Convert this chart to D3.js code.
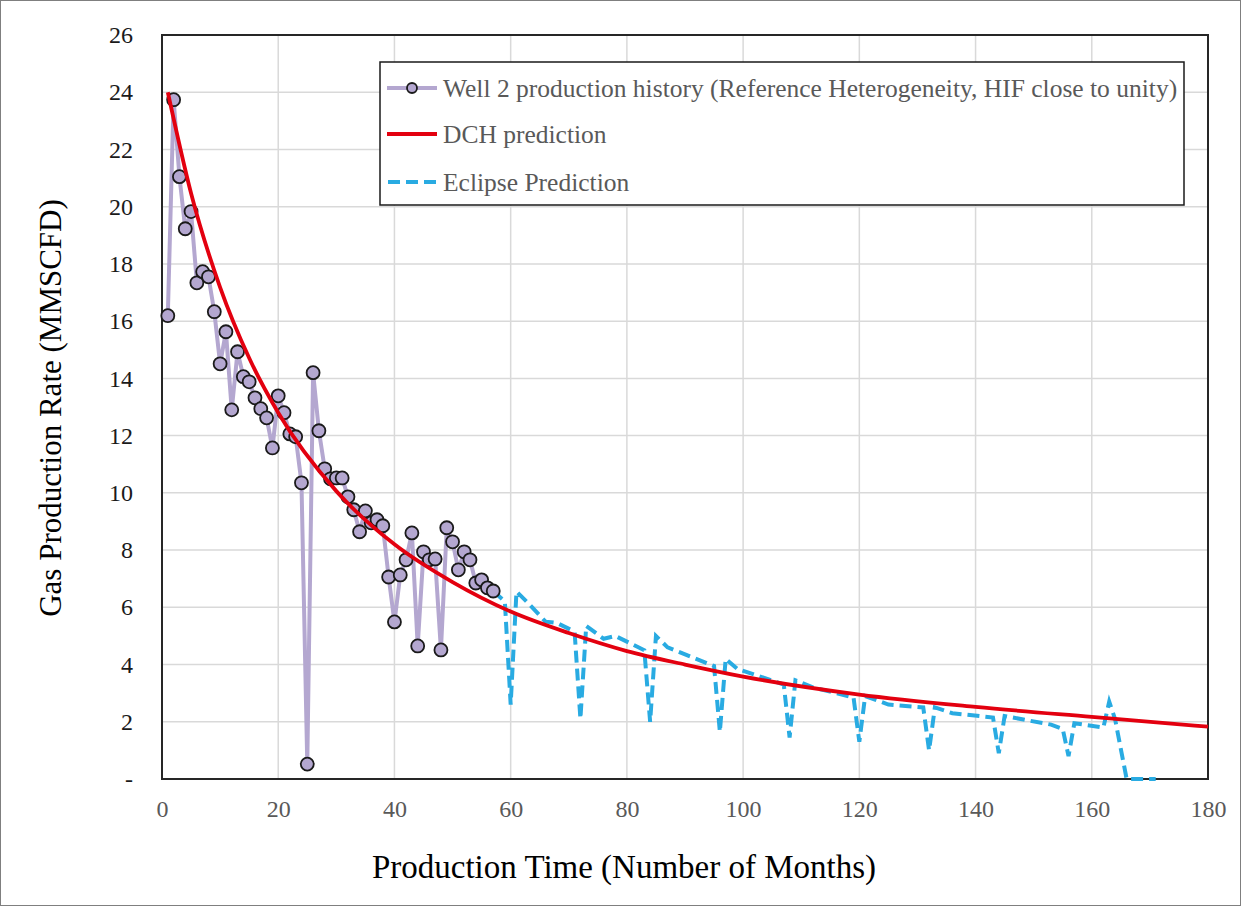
<!DOCTYPE html>
<html>
<head>
<meta charset="utf-8">
<script src="https://cdn.jsdelivr.net/npm/d3@7"></script>
<style>
body { margin: 0; background: #fff; }
text { font-family: "Liberation Serif", "Times New Roman", serif; }
</style>
</head>
<body>
<div id="chart-area"></div>
<script>
// production history, months 1..57
var historyMonths = d3.range(1, 58);
var historyRates = [16.19, 23.74, 21.05, 19.23, 19.83, 17.34, 17.73, 17.55, 16.33, 14.51,
    15.63, 12.9, 14.93, 14.06, 13.88, 13.32, 12.94, 12.62, 11.57, 13.39,
    12.8, 12.06, 11.96, 10.35, 0.52, 14.2, 12.17, 10.84, 10.49, 10.52,
    10.52, 9.86, 9.41, 8.64, 9.37, 8.95, 9.06, 8.85, 7.06, 5.49,
    7.13, 7.66, 8.6, 4.65, 7.94, 7.66, 7.69, 4.51, 8.78, 8.29,
    7.31, 7.94, 7.66, 6.85, 6.96, 6.68, 6.57];

// DCH prediction
var dchMonths = [1, 5, 10, 15, 20, 30, 40, 50, 60, 70, 80, 90, 100, 120, 140, 160, 180];
var dchRates = [24.0, 20.47, 17.18, 14.71, 12.8, 10.06, 8.2, 6.88, 5.85, 5.1, 4.47, 4.0, 3.58, 2.95, 2.52, 2.17, 1.83];

// Eclipse prediction
var eclipseMonths = [57, 59, 60, 61, 63, 66, 68, 71, 72, 73, 76, 78, 83, 84, 85, 87, 95, 96, 97, 99,
    107, 108, 109, 112, 119, 120, 121, 125, 131, 132, 133, 136, 143, 144, 145, 153, 155, 156, 157,
    162, 163, 164, 166, 171];
var eclipseRates = [6.57, 6.2, 2.6, 6.55, 6.15, 5.5, 5.45, 5.15, 2.1, 5.35, 4.9, 5.0, 4.5, 2.0, 5.0, 4.6, 3.95, 1.65, 4.2, 3.85,
    3.3, 1.45, 3.45, 3.2, 2.85, 1.3, 2.9, 2.6, 2.5, 1.0, 2.5, 2.3, 2.15, 0.9, 2.2, 1.9, 1.75, 0.8, 1.95,
    1.8, 2.7, 2.1, 0, 0];

var xTicks = d3.range(0, 181, 20);
var yTicks = d3.range(0, 27, 2);

var legendLabels = ["Well 2 production history (Reference Heterogeneity, HIF close to unity)",
    "DCH prediction", "Eclipse Prediction"];

var width = 1247;
var height = 907;
var margin = { left: 162, top: 35, right: 39, bottom: 128 };

var svg = d3.select("#chart-area")
    .append("svg")
    .attr("width", width)
    .attr("height", height);

// outer frame
svg.append("rect")
    .attr("x", 0.5).attr("y", 0.5)
    .attr("width", 1240).attr("height", 905)
    .attr("fill", "none")
    .attr("stroke", "#7f7f7f")
    .attr("stroke-width", 1);

var x = d3.scaleLinear()
    .domain([0, 180])
    .range([margin.left, width - margin.right]);

var y = d3.scaleLinear()
    .domain([0, 26])
    .range([height - margin.bottom, margin.top]);

// gridlines
svg.append("g")
    .selectAll("line.gx")
    .data(xTicks)
    .enter()
    .append("line")
    .attr("x1", function(d) { return x(d); })
    .attr("x2", function(d) { return x(d); })
    .attr("y1", y(0))
    .attr("y2", y(26))
    .attr("stroke", "#d9d9d9")
    .attr("stroke-width", 1.5);

svg.append("g")
    .selectAll("line.gy")
    .data(yTicks)
    .enter()
    .append("line")
    .attr("x1", x(0))
    .attr("x2", x(180))
    .attr("y1", function(d) { return y(d); })
    .attr("y2", function(d) { return y(d); })
    .attr("stroke", "#d9d9d9")
    .attr("stroke-width", 1.5);

// axes
var xAxis = svg.append("g")
    .attr("transform", "translate(0," + y(0) + ")")
    .call(d3.axisBottom(x).tickValues(xTicks).tickSize(0).tickPadding(21));

var yAxis = svg.append("g")
    .attr("transform", "translate(" + x(0) + ",0)")
    .call(d3.axisLeft(y).tickValues(yTicks).tickSize(0).tickPadding(29)
        .tickFormat(function(d) { return d === 0 ? "-" : d; }));

xAxis.select(".domain").remove();
yAxis.select(".domain").remove();
xAxis.selectAll("text")
    .attr("font-family", "Liberation Serif, Times New Roman, serif")
    .attr("font-size", 24)
    .attr("fill", "#595959");
yAxis.selectAll("text")
    .attr("font-family", "Liberation Serif, Times New Roman, serif")
    .attr("font-size", 24)
    .attr("fill", "#1a1a1a");

// plot frame
svg.append("rect")
    .attr("x", x(0)).attr("y", y(26))
    .attr("width", x(180) - x(0))
    .attr("height", y(0) - y(26))
    .attr("fill", "none")
    .attr("stroke", "#262626")
    .attr("stroke-width", 2);

var line = d3.line()
    .x(function(d) { return x(d[0]); })
    .y(function(d) { return y(d[1]); });

var historyData = historyMonths.map(function(m, i) { return [m, historyRates[i]]; });
var dchData = dchMonths.map(function(m, i) { return [m, dchRates[i]]; });
var eclipseData = eclipseMonths.map(function(m, i) { return [m, eclipseRates[i]]; });

svg.append("path")
    .datum(eclipseData)
    .attr("d", line)
    .attr("fill", "none")
    .attr("stroke", "#29abe2")
    .attr("stroke-width", 4)
    .attr("stroke-dasharray", "12,6");

svg.append("path")
    .datum(historyData)
    .attr("d", line)
    .attr("fill", "none")
    .attr("stroke", "#b4a7d0")
    .attr("stroke-width", 4)
    .attr("stroke-linejoin", "round");

svg.selectAll("circle.hist")
    .data(historyData)
    .enter()
    .append("circle")
    .attr("cx", function(d) { return x(d[0]); })
    .attr("cy", function(d) { return y(d[1]); })
    .attr("r", 6.5)
    .attr("fill", "#b4a7d0")
    .attr("stroke", "#1a1a1a")
    .attr("stroke-width", 1.8);

svg.append("path")
    .datum(dchData)
    .attr("d", line.curve(d3.curveMonotoneX))
    .attr("fill", "none")
    .attr("stroke", "#e3000f")
    .attr("stroke-width", 3.8);

// legend
var legend = svg.append("g");
legend.append("rect")
    .attr("x", 380).attr("y", 62)
    .attr("width", 804).attr("height", 143)
    .attr("fill", "#fff")
    .attr("stroke", "#1a1a1a")
    .attr("stroke-width", 1.5);

var rowY = [88, 134, 182];
legend.append("line")
    .attr("x1", 387).attr("x2", 437).attr("y1", rowY[0]).attr("y2", rowY[0])
    .attr("stroke", "#b4a7d0").attr("stroke-width", 4);
legend.append("circle")
    .attr("cx", 412).attr("cy", rowY[0]).attr("r", 5)
    .attr("fill", "#b4a7d0").attr("stroke", "#1a1a1a").attr("stroke-width", 1.8);
legend.append("line")
    .attr("x1", 387).attr("x2", 437).attr("y1", rowY[1]).attr("y2", rowY[1])
    .attr("stroke", "#e3000f").attr("stroke-width", 3.8);
legend.append("line")
    .attr("x1", 388).attr("x2", 437).attr("y1", rowY[2]).attr("y2", rowY[2])
    .attr("stroke", "#29abe2").attr("stroke-width", 4)
    .attr("stroke-dasharray", "12,6");

legend.selectAll("text")
    .data(legendLabels)
    .enter()
    .append("text")
    .attr("x", 443)
    .attr("y", function(d, i) { return rowY[i]; })
    .attr("dy", "0.35em")
    .attr("font-size", 25.5)
    .attr("fill", "#595959")
    .text(function(d) { return d; });

// axis titles
svg.append("text")
    .attr("x", 624)
    .attr("y", 866)
    .attr("dy", "0.35em")
    .attr("text-anchor", "middle")
    .attr("font-size", 33)
    .attr("fill", "#000")
    .text("Production Time (Number of Months)");

svg.append("text")
    .attr("transform", "translate(50,408) rotate(-90)")
    .attr("dy", "0.35em")
    .attr("text-anchor", "middle")
    .attr("font-size", 31)
    .attr("fill", "#000")
    .text("Gas Production Rate (MMSCFD)");
</script>
</body>
</html>
